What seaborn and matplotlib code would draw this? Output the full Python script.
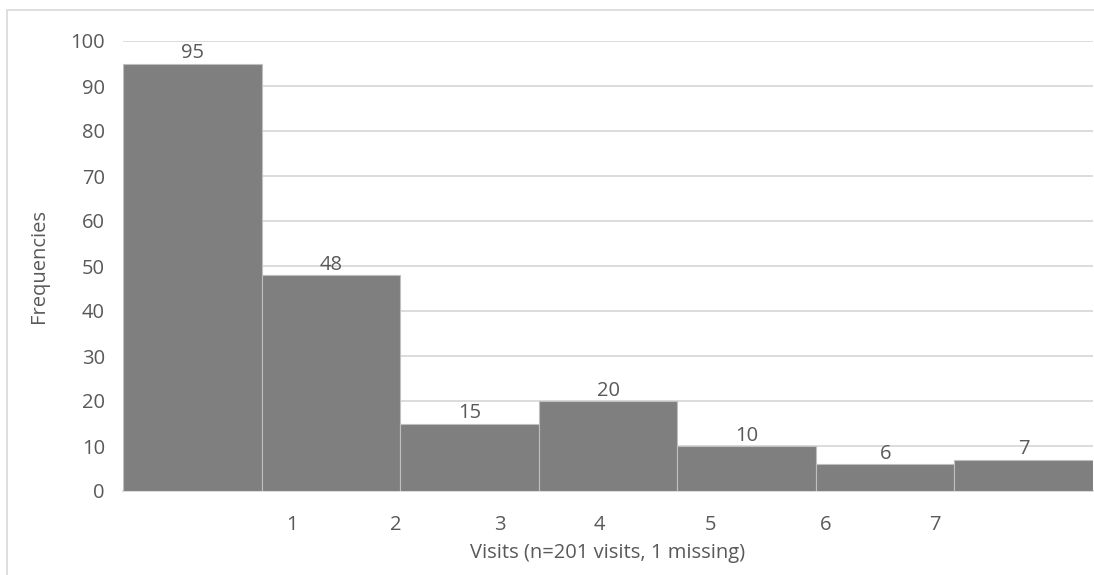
import matplotlib
matplotlib.use("Agg")
import matplotlib.pyplot as plt
import matplotlib.patches as mpatches
import seaborn as sns
import pandas as pd

# Visit-count frequencies
bins = ["b1", "b2", "b3", "b4", "b5", "b6", "b7"]
frequencies = [95, 48, 15, 20, 10, 6, 7]
tick_labels = ["1", "2", "3", "4", "5", "6", "7"]
tick_positions = [0.72, 1.47, 2.22, 2.94, 3.74, 4.57, 5.36]
y_ticks = list(range(0, 101, 10))

sns.set_theme(style="white")
plt.rcParams["font.family"] = ["Open Sans", "DejaVu Sans"]

TEXT = "#595959"
GRID = "#d9d9d9"
FS = 14.5

fig = plt.figure(figsize=(10.94, 5.75), dpi=100)
ax = fig.add_axes([123 / 1094, 1 - 491 / 575, 970 / 1094, 450 / 575])

# outer chart frame
fig.patches.append(mpatches.Rectangle((7 / 1094, -0.1), 1.2, 1 - 10 / 575 + 0.1,
                                      transform=fig.transFigure, fill=False,
                                      edgecolor=GRID, linewidth=1.2, zorder=0))

df = pd.DataFrame({"bin": bins, "freq": frequencies})
sns.barplot(data=df, x="bin", y="freq", color="#7f7f7f", saturation=1,
            width=1.0, edgecolor="#bfbfbf", linewidth=0.8, ax=ax, zorder=3)

for i, v in enumerate(frequencies):
    ax.text(i, v + 0.1, str(v), ha="center", va="bottom", fontsize=FS,
            color=TEXT, zorder=4)

ax.set_xlim(-0.5, 6.5)
ax.set_ylim(0, 100)
ax.set_yticks(y_ticks)
ax.set_yticklabels([str(t) for t in y_ticks])
ax.set_xticks(tick_positions)
ax.set_xticklabels(tick_labels)
ax.yaxis.grid(True, color=GRID, linewidth=1.3, zorder=0)
ax.set_axisbelow(True)
ax.tick_params(axis="x", length=0, pad=17, labelsize=FS, labelcolor=TEXT)
ax.tick_params(axis="y", length=0, pad=13, labelsize=FS, labelcolor=TEXT)

for s in ["left", "right", "top"]:
    ax.spines[s].set_visible(False)
ax.spines["bottom"].set_color(GRID)
ax.spines["bottom"].set_linewidth(1.3)

ax.set_xlabel("Visits (n=201 visits, 1 missing)", fontsize=FS, color=TEXT, labelpad=6)
ax.set_ylabel("Frequencies", fontsize=FS, color=TEXT, labelpad=15)

fig.savefig("out.png", dpi=100)
